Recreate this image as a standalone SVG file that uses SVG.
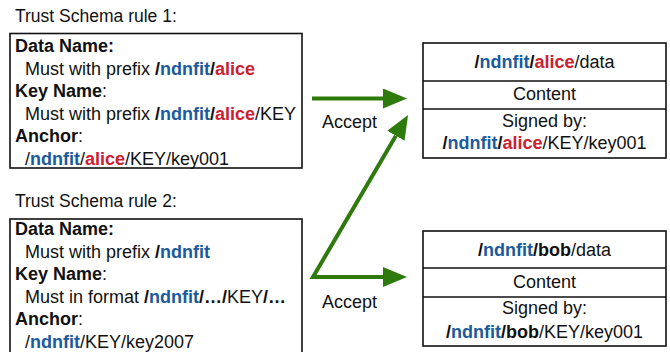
<svg xmlns="http://www.w3.org/2000/svg" width="670" height="352" viewBox="0 0 670 352">
<style>
text{font-family:"Liberation Sans",Arial,Helvetica,sans-serif;font-size:18px;fill:#111}
.t{font-size:17.5px}
.b{font-weight:bold}
.bl{fill:#1b5a9c}
.rd{fill:#cc2030}
.box{fill:#fff;stroke:#111;stroke-width:1.6}
.c{text-anchor:middle}
.conn{fill:none;stroke:#2f7a0c;stroke-width:4;stroke-linejoin:miter}
</style>
<defs>
<marker id="ah" markerUnits="userSpaceOnUse" markerWidth="24" markerHeight="20" viewBox="0 0 24 20" refX="0" refY="10" orient="auto-start-reverse">
<path d="M0,0 L24,10 L0,20 z" fill="#2f7a0c"/>
</marker>
</defs>
<rect width="670" height="352" fill="#fff"/>

<g id="rule1">
<text class="t" x="15" y="22">Trust Schema rule 1:</text>
<rect class="box" x="10" y="33.5" width="292" height="134.5"/>
<text x="15" y="52" class="b">Data Name:</text>
<text x="25" y="74.5">Must with prefix <tspan class="b">/</tspan><tspan class="b bl">ndnfit</tspan><tspan class="b">/</tspan><tspan class="b rd">alice</tspan></text>
<text x="15" y="97"><tspan class="b">Key Name</tspan>:</text>
<text x="25" y="119.5">Must with prefix <tspan class="b">/</tspan><tspan class="b bl">ndnfit</tspan><tspan class="b">/</tspan><tspan class="b rd">alice</tspan>/KEY</text>
<text x="15" y="142"><tspan class="b">Anchor</tspan>:</text>
<text x="25" y="164.5">/<tspan class="b bl">ndnfit</tspan>/<tspan class="b rd">alice</tspan>/KEY/key001</text>
</g>

<g id="rule2">
<text class="t" x="15" y="207">Trust Schema rule 2:</text>
<rect class="box" x="10" y="219" width="292" height="140"/>
<text x="15" y="235" class="b">Data Name:</text>
<text x="25" y="257.5">Must with prefix <tspan class="b">/</tspan><tspan class="b bl">ndnfit</tspan></text>
<text x="15" y="280"><tspan class="b">Key Name</tspan>:</text>
<text x="25" y="302.5">Must in format <tspan class="b">/</tspan><tspan class="b bl">ndnfit</tspan><tspan class="b">/…/</tspan>KEY<tspan class="b">/…</tspan></text>
<text x="15" y="325"><tspan class="b">Anchor</tspan>:</text>
<text x="25" y="347.5">/<tspan class="b bl">ndnfit</tspan>/KEY/key2007</text>
</g>

<g id="packetAlice">
<rect class="box" x="423" y="43" width="243" height="115"/>
<line x1="423" y1="81" x2="666" y2="81" stroke="#111" stroke-width="1.6"/>
<line x1="423" y1="109" x2="666" y2="109" stroke="#111" stroke-width="1.6"/>
<text class="c" x="544.5" y="68"><tspan class="b">/</tspan><tspan class="b bl">ndnfit</tspan><tspan class="b">/</tspan><tspan class="b rd">alice</tspan>/data</text>
<text class="c" x="544.5" y="100">Content</text>
<text class="c" x="544.5" y="127">Signed by:</text>
<text class="c" x="544.5" y="149"><tspan class="b">/</tspan><tspan class="b bl">ndnfit</tspan><tspan class="b">/</tspan><tspan class="b rd">alice</tspan>/KEY/key001</text>
</g>

<g id="packetBob">
<rect class="box" x="423" y="231" width="243" height="115"/>
<line x1="423" y1="268" x2="666" y2="268" stroke="#111" stroke-width="1.6"/>
<line x1="423" y1="297" x2="666" y2="297" stroke="#111" stroke-width="1.6"/>
<text class="c" x="544.5" y="256"><tspan class="b">/</tspan><tspan class="b bl">ndnfit</tspan><tspan class="b">/bob</tspan>/data</text>
<text class="c" x="544.5" y="288">Content</text>
<text class="c" x="544.5" y="314">Signed by:</text>
<text class="c" x="544.5" y="338"><tspan class="b">/</tspan><tspan class="b bl">ndnfit</tspan><tspan class="b">/bob</tspan>/KEY/key001</text>
</g>

<g id="connectors">
<path class="conn" d="M312,98.5 L383,98.5" marker-end="url(#ah)"/>
<path class="conn" d="M395.9,135.7 L313,277 L383,277" marker-start="url(#ah)" marker-end="url(#ah)"/>
<text x="322" y="128">Accept</text>
<text x="322" y="308">Accept</text>
</g>
</svg>
